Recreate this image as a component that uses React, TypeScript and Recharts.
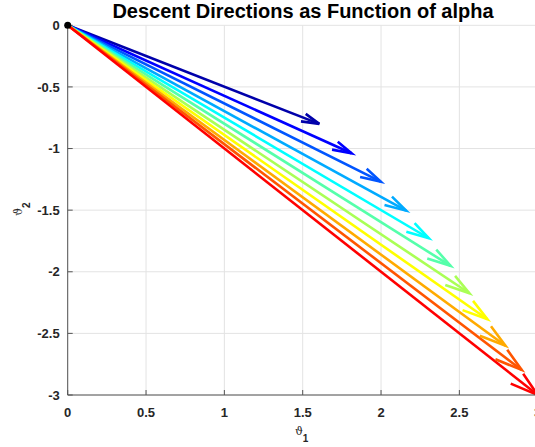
import React from 'react';
import { LineChart, Line, XAxis, YAxis, CartesianGrid, ReferenceDot } from 'recharts';

// Arrow tip coordinates (theta1, theta2), one per alpha value
const tipX = [1.606, 1.812, 1.998, 2.16, 2.305, 2.444, 2.564, 2.679, 2.794, 2.898, 3.0];
const tipY = [-0.8, -1.038, -1.268, -1.504, -1.728, -1.952, -2.174, -2.385, -2.6, -2.797, -3.0];
// jet(11) colormap
const arrowColors = [
  '#0000AA', '#0000FF', '#0055FF', '#00AAFF', '#00FFFF', '#55FFAA',
  '#AAFF55', '#FFFF00', '#FFAA00', '#FF5500', '#FF0000',
];
const xTicks = [0, 0.5, 1, 1.5, 2, 2.5, 3];
const yTicks = [-3, -2.5, -2, -1.5, -1, -0.5, 0];
const origin = { x: 0, y: 0 };
const titleText = 'Descent Directions as Function of alpha';

const HEAD_BETA = 0.3;
const headFraction = (len: number) => (0.06 + 0.03 * len) / len;

const arrows = tipX.map((tx, i) => {
  const ty = tipY[i];
  const u = tx - origin.x;
  const v = ty - origin.y;
  const len = Math.hypot(u, v);
  const a = headFraction(len);
  const shaft = [
    { x: origin.x, y: origin.y },
    { x: tx, y: ty },
  ];
  const head = [
    { x: tx - a * (u + HEAD_BETA * v), y: ty - a * (v - HEAD_BETA * u) },
    { x: tx, y: ty },
    { x: tx - a * (u - HEAD_BETA * v), y: ty - a * (v + HEAD_BETA * u) },
  ];
  return { shaft, head, color: arrowColors[i] };
});

const tickFont = {
  fontSize: 13,
  fontWeight: 'bold' as const,
  fill: '#262626',
  fontFamily: '"Liberation Sans", Arial, sans-serif',
};

const XLabel = (props: any) => {
  const vb = props.viewBox || {};
  const cx = vb.x + vb.width / 2 - 1;
  const y = vb.y + 39.5;
  return (
    <text x={cx} y={y} textAnchor="middle" fill="#262626">
      <tspan fontFamily='"DejaVu Serif", serif' fontSize={11}>ϑ</tspan>
      <tspan dy={7} fontFamily='"Liberation Sans", Arial, sans-serif' fontSize={10} fontWeight="bold">1</tspan>
    </text>
  );
};

const YLabel = (props: any) => {
  const vb = props.viewBox || {};
  const cy = vb.y + vb.height / 2 - 1;
  const x = 22;
  return (
    <text x={x} y={cy} textAnchor="middle" fill="#262626" transform={`rotate(-90, ${x}, ${cy})`}>
      <tspan fontFamily='"DejaVu Serif", serif' fontSize={11}>ϑ</tspan>
      <tspan dy={8} fontFamily='"Liberation Sans", Arial, sans-serif' fontSize={10} fontWeight="bold">2</tspan>
    </text>
  );
};

export default function App() {
  return (
    <div style={{ position: 'absolute', left: 0, top: 0, width: 535, height: 447, overflow: 'hidden', background: '#fff' }}>
      <LineChart
        width={545}
        height={447}
        margin={{ top: 25.3, right: 7.3, bottom: 12, left: 7.7 }}
      >
        <CartesianGrid stroke="#e3e3e3" strokeWidth={1} />
        <XAxis
          dataKey="x"
          type="number"
          domain={[0, 3]}
          ticks={xTicks}
          interval={0}
          height={40}
          tickSize={-5}
          tickMargin={17.5}
          tick={tickFont}
          tickLine={{ stroke: '#555' }}
          axisLine={{ stroke: '#555' }}
          label={<XLabel />}
        />
        <YAxis
          type="number"
          domain={[-3, 0]}
          ticks={yTicks}
          interval={0}
          width={60}
          tickSize={-5}
          tickMargin={13}
          tick={tickFont}
          tickLine={{ stroke: '#555' }}
          axisLine={{ stroke: '#555' }}
          label={<YLabel />}
        />
        {arrows.map((ar, i) => (
          <Line
            key={`s${i}`}
            data={ar.shaft}
            dataKey="y"
            stroke={ar.color}
            strokeWidth={2.6}
            dot={false}
            activeDot={false}
            isAnimationActive={false}
            type="linear"
          />
        ))}
        {arrows.map((ar, i) => (
          <Line
            key={`h${i}`}
            data={ar.head}
            dataKey="y"
            stroke={ar.color}
            strokeWidth={2.6}
            strokeLinejoin="miter"
            dot={false}
            activeDot={false}
            isAnimationActive={false}
            type="linear"
          />
        ))}
        <ReferenceDot x={origin.x} y={origin.y} r={3.5} fill="#000" stroke="none" />
      </LineChart>
      <svg width={535} height={30} style={{ position: 'absolute', left: 0, top: 0, pointerEvents: 'none' }}>
        <text
          x={303}
          y={17.5}
          textAnchor="middle"
          fontFamily='"Liberation Sans", Arial, sans-serif'
          fontWeight="bold"
          fontSize={20}
          fill="#000"
        >
          {titleText}
        </text>
      </svg>
    </div>
  );
}
